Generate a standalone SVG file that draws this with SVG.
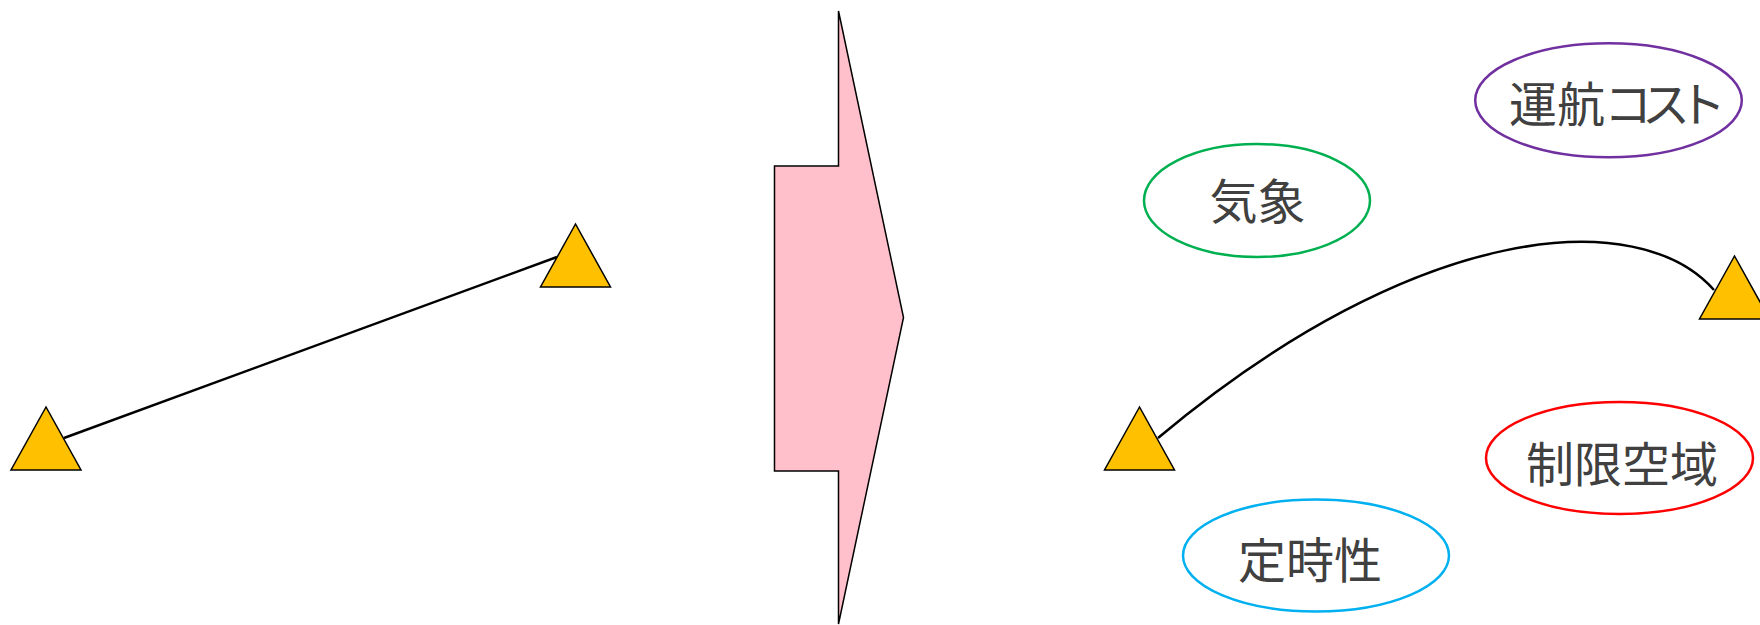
<svg xmlns="http://www.w3.org/2000/svg" width="1760" height="625" viewBox="0 0 1760 625">
<style>
.tri{fill:#FFC000;stroke:#000;stroke-width:1.5;stroke-linejoin:miter}
.conn{fill:none;stroke:#000;stroke-width:2.5}
.ell{fill:#fff;stroke-width:2.5}
.lbl{font-family:"Noto Sans CJK JP","Noto Sans CJK SC",sans-serif;font-size:48px;fill:#404040;text-anchor:middle}
</style>
<rect width="1760" height="625" fill="#fff"/>
<g id="connectors">
<line class="conn" x1="64" y1="438" x2="557" y2="257"/>
<path class="conn" d="M1158,438 C1418,220 1639,205 1714,290"/>
</g>
<g id="tri1"><polygon class="tri" points="46,407 11,470 81,470"/></g>
<g id="tri2"><polygon class="tri" points="575.5,224 540.5,287 610.5,287"/></g>
<g id="arrow"><polygon points="838.5,11 903.5,317.5 838.5,624 838.5,471 774.5,471 774.5,166 838.5,166" fill="#FFC0CB" stroke="#000" stroke-width="1.5"/></g>
<g id="tri3"><polygon class="tri" points="1139.5,407 1104.5,470 1174.5,470"/></g>
<g id="tri4"><polygon class="tri" points="1734.5,256 1699.5,319 1769.5,319"/></g>
<g id="kishou"><ellipse class="ell" cx="1257" cy="200.5" rx="113" ry="56.5" stroke="#00B050"/><text class="lbl" x="1257.5" y="219">気象</text></g>
<g id="cost"><ellipse class="ell" cx="1608.5" cy="100.3" rx="133.3" ry="57" stroke="#7030A0"/><text class="lbl" x="1533 1581 1628 1666 1702" y="122">運航コスト</text></g>
<g id="airspace"><ellipse class="ell" cx="1619.5" cy="458" rx="133.5" ry="56" stroke="#FF0000"/><text class="lbl" x="1622" y="482">制限空域</text></g>
<g id="punctuality"><ellipse class="ell" cx="1316" cy="555.5" rx="133" ry="56" stroke="#00B0F0"/><text class="lbl" x="1310" y="578">定時性</text></g>
</svg>
